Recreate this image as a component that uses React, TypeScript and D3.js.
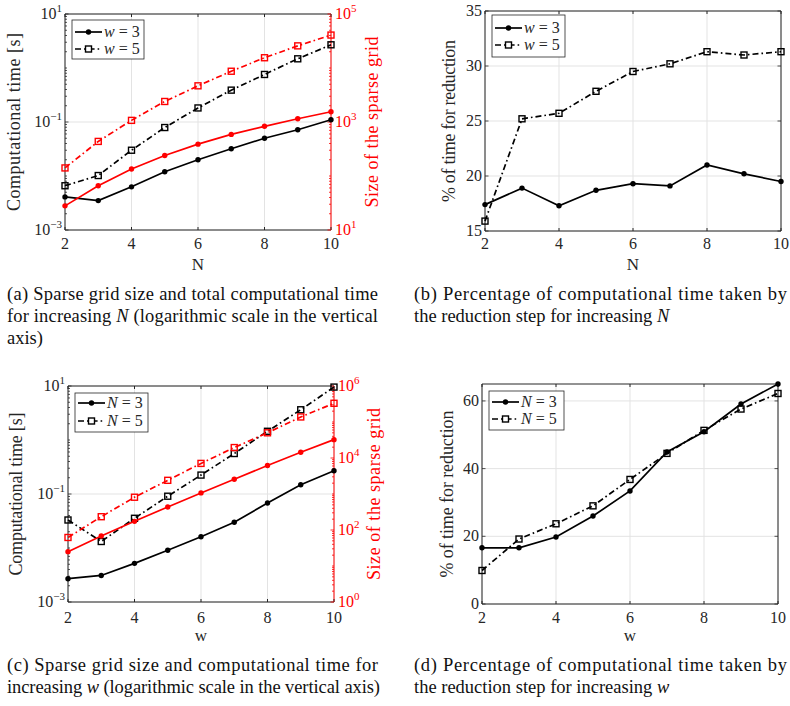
import React from 'react';
import * as d3 from 'd3';

const xValues = [2, 3, 4, 5, 6, 7, 8, 9, 10];
const xTickValues = [2, 4, 6, 8, 10];

// (a) increasing N
const timeW3 = [0.0041, 0.0035, 0.0063, 0.012, 0.020, 0.032, 0.050, 0.072, 0.110];
const timeW5 = [0.0066, 0.0102, 0.030, 0.079, 0.182, 0.389, 0.759, 1.48, 2.69];
const sizeW3 = [28, 66, 135, 240, 389, 589, 832, 1148, 1549];
const sizeW5 = [141, 437, 1072, 2399, 4677, 8710, 15488, 25704, 40738];
// (b)
const pctW3 = [17.4, 18.9, 17.3, 18.7, 19.3, 19.1, 21.0, 20.2, 19.5];
const pctW5 = [15.9, 25.2, 25.7, 27.7, 29.5, 30.2, 31.3, 31.0, 31.3];
// (c) increasing w
const timeN3 = [0.0027, 0.0031, 0.0052, 0.0091, 0.0162, 0.030, 0.068, 0.148, 0.269];
const timeN5 = [0.033, 0.0132, 0.0355, 0.091, 0.224, 0.562, 1.45, 3.63, 9.55];
const sizeN3 = [25, 68, 174, 437, 1072, 2570, 6166, 14454, 32359];
const sizeN5 = [62, 234, 813, 2399, 7079, 19498, 50119, 138038, 331131];
// (d)
const pctN3 = [16.6, 16.6, 19.8, 26.0, 33.4, 44.9, 50.9, 59.1, 65.0];
const pctN5 = [9.9, 19.2, 23.7, 29.0, 36.8, 44.5, 51.3, 57.6, 62.2];

const timeLogTicks = [1e-3, 1e-1, 1e1];
const sizeLogTicksN = [1e1, 1e3, 1e5];
const sizeLogTicksW = [1e0, 1e2, 1e4, 1e6];
const pctTicksN = [15, 20, 25, 30, 35];
const pctTicksW = [0, 20, 40, 60];

const FONT = "'Liberation Serif', 'Times New Roman', serif";
const AX = '#262626';
const GRID = '#e3e3e3';
const RED = '#ff0000';
const DASHDOT = '6 3 1.6 3';

function allLogTicks(min: number, max: number) {
  const out: number[] = [];
  for (let e = Math.floor(Math.log10(min)); e <= Math.ceil(Math.log10(max)); e++) {
    for (let k = 1; k <= 9; k++) {
      const v = k * Math.pow(10, e);
      if (v >= min * 0.999 && v <= max * 1.001) out.push(v);
    }
  }
  return out;
}

function expOf(v: number) {
  const e = Math.round(Math.log10(v));
  return e < 0 ? '\u2212' + Math.abs(e) : String(e);
}

type Series = { values: number[]; axis: 'L' | 'R'; color: string; dashed: boolean };
type AxisCfg = { log: boolean; domain: [number, number]; ticks: number[]; label: string; labelX: number; labelLen: number; color: string };
type Cfg = {
  box: { l: number; r: number; t: number; b: number };
  left: AxisCfg;
  right?: AxisCfg;
  series: Series[];
  xLabel: string;
  xLabelY: number;
  tickY: number;
  legend: { x: number; y: number; w: number; h: number; rows: number[]; names: string[] };
};

function Panel({ cfg }: { cfg: Cfg }) {
  const { l, r, t, b } = cfg.box;
  const x = d3.scaleLinear().domain([2, 10]).range([l, r]);
  const mk = (a: AxisCfg) =>
    a.log
      ? (d3.scaleLog().domain(a.domain).range([b, t]) as any)
      : (d3.scaleLinear().domain(a.domain).range([b, t]) as any);
  const yL = mk(cfg.left);
  const yR = cfg.right ? mk(cfg.right) : null;
  const midY = (t + b) / 2;

  const elems: any[] = [];
  xTickValues.forEach((v) => {
    elems.push(<line key={'gx' + v} x1={x(v)} x2={x(v)} y1={t} y2={b} stroke={GRID} strokeWidth={1} />);
  });
  cfg.left.ticks.forEach((v) => {
    elems.push(<line key={'gy' + v} x1={l} x2={r} y1={yL(v)} y2={yL(v)} stroke={GRID} strokeWidth={1} />);
  });

  elems.push(<line key="axB" x1={l} x2={r} y1={b} y2={b} stroke={AX} strokeWidth={1} />);
  elems.push(<line key="axT" x1={l} x2={r} y1={t} y2={t} stroke={AX} strokeWidth={1} />);
  elems.push(<line key="axL" x1={l} x2={l} y1={t} y2={b} stroke={AX} strokeWidth={1} />);
  elems.push(
    <line key="axR" x1={r} x2={r} y1={t} y2={b} stroke={cfg.right ? cfg.right.color : AX} strokeWidth={1} />
  );

  xTickValues.forEach((v) => {
    elems.push(<line key={'xtb' + v} x1={x(v)} x2={x(v)} y1={b} y2={b - 3} stroke={AX} />);
    elems.push(<line key={'xtt' + v} x1={x(v)} x2={x(v)} y1={t} y2={t + 3} stroke={AX} />);
    elems.push(
      <text key={'xl' + v} x={x(v)} y={cfg.tickY} textAnchor="middle" fontSize={16} fill={AX} fontFamily={FONT}>
        {v}
      </text>
    );
  });

  const leftAll = cfg.left.log ? allLogTicks(cfg.left.domain[0], cfg.left.domain[1]) : cfg.left.ticks;
  leftAll.forEach((v, i) => {
    const major = cfg.left.ticks.some((m) => m === v || Math.abs(m - v) / Math.abs(m || 1) < 1e-6);
    const len = major ? 3.5 : 2;
    elems.push(<line key={'lt' + i} x1={l} x2={l + len} y1={yL(v)} y2={yL(v)} stroke={AX} strokeWidth={0.8} />);
    if (!cfg.right) {
      elems.push(<line key={'lrt' + i} x1={r} x2={r - len} y1={yL(v)} y2={yL(v)} stroke={AX} strokeWidth={0.8} />);
    }
  });
  cfg.left.ticks.forEach((v) => {
    elems.push(
      <text key={'ll' + v} x={l - 3} y={yL(v) + 5} textAnchor="end" fontSize={16} fill={AX} fontFamily={FONT}>
        {cfg.left.log ? (
          <>
            10<tspan dy={-7} fontSize={11}>{expOf(v)}</tspan>
          </>
        ) : (
          v
        )}
      </text>
    );
  });
  if (cfg.right && yR) {
    const rc = cfg.right;
    allLogTicks(rc.domain[0], rc.domain[1]).forEach((v, i) => {
      const major = rc.ticks.some((m) => Math.abs(m - v) / m < 1e-6);
      const len = major ? 3.5 : 2;
      elems.push(<line key={'rt' + i} x1={r} x2={r - len} y1={yR(v)} y2={yR(v)} stroke={rc.color} strokeWidth={0.8} />);
    });
    rc.ticks.forEach((v) => {
      elems.push(
        <text key={'rl' + v} x={r + 4} y={yR(v) + 5} textAnchor="start" fontSize={16} fill={rc.color} fontFamily={FONT}>
          10<tspan dy={-7} fontSize={11}>{expOf(v)}</tspan>
        </text>
      );
    });
    elems.push(
      <text
        key="rlab"
        transform={`translate(${rc.labelX},${midY}) rotate(-90)`}
        textAnchor="middle"
        dominantBaseline="central"
        fontSize={18}
        fill={rc.color}
        fontFamily={FONT}
        textLength={rc.labelLen}
        lengthAdjust="spacing"
      >
        {rc.label}
      </text>
    );
  }
  elems.push(
    <text
      key="llab"
      transform={`translate(${cfg.left.labelX},${midY}) rotate(-90)`}
      textAnchor="middle"
      dominantBaseline="central"
      fontSize={18}
      fill={cfg.left.color}
      fontFamily={FONT}
      textLength={cfg.left.labelLen}
      lengthAdjust="spacing"
    >
      {cfg.left.label}
    </text>
  );
  elems.push(
    <text key="xlab" x={(l + r) / 2} y={cfg.xLabelY} textAnchor="middle" fontSize={17} fill={AX} fontFamily={FONT}>
      {cfg.xLabel}
    </text>
  );

  cfg.series.forEach((s, si) => {
    const ys = s.axis === 'L' ? yL : yR;
    const gen = d3
      .line<number>()
      .x((_, i) => x(xValues[i]))
      .y((d) => ys(d));
    elems.push(
      <path
        key={'s' + si}
        d={gen(s.values) || ''}
        fill="none"
        stroke={s.color}
        strokeWidth={1.7}
        strokeDasharray={s.dashed ? DASHDOT : undefined}
      />
    );
    s.values.forEach((v, i) => {
      const cx = x(xValues[i]);
      const cy = ys(v);
      if (s.dashed) {
        elems.push(
          <rect key={'m' + si + '_' + i} x={cx - 3} y={cy - 3} width={6} height={6} fill="none" stroke={s.color} strokeWidth={1.4} />
        );
      } else {
        elems.push(<circle key={'m' + si + '_' + i} cx={cx} cy={cy} r={2.7} fill={s.color} />);
      }
    });
  });

  const lg = cfg.legend;
  elems.push(<rect key="lgbox" x={lg.x} y={lg.y} width={lg.w} height={lg.h} fill="#fff" stroke={AX} strokeWidth={0.8} />);
  lg.rows.forEach((ry, i) => {
    const dashed = i === 1;
    const x0 = lg.x + 3;
    const x1 = lg.x + 30;
    elems.push(
      <line key={'lgl' + i} x1={x0} x2={x1} y1={ry} y2={ry} stroke="#000" strokeWidth={1.7} strokeDasharray={dashed ? DASHDOT : undefined} />
    );
    const mx = (x0 + x1) / 2;
    if (dashed) {
      elems.push(<rect key={'lgm' + i} x={mx - 3} y={ry - 3} width={6} height={6} fill="#fff" stroke="#000" strokeWidth={1.4} />);
    } else {
      elems.push(<circle key={'lgm' + i} cx={mx} cy={ry} r={2.7} fill="#000" />);
    }
    elems.push(
      <text key={'lgt' + i} x={x1 + 2} y={ry + 5} fontSize={16} fill={AX} fontFamily={FONT}>
        <tspan fontStyle="italic">{lg.names[i]}</tspan>
        {' = ' + (i === 0 ? '3' : '5')}
      </text>
    );
  });

  return <g>{elems}</g>;
}

type Seg = { t: string; i?: boolean };
type CapLine = { segs: Seg[]; len?: number; y: number };

function Caption({ x, lines }: { x: number; lines: CapLine[] }) {
  return (
    <g>
      {lines.map((ln, k) => (
        <text
          key={k}
          x={x}
          y={ln.y}
          fontSize={18.5}
          fill="#111"
          fontFamily={FONT}
          textLength={ln.len}
          lengthAdjust={ln.len ? 'spacing' : undefined}
        >
          {ln.segs.map((s, j) => (
            <tspan key={j} fontStyle={s.i ? 'italic' : undefined}>
              {s.t}
            </tspan>
          ))}
        </text>
      ))}
    </g>
  );
}

const cfgA: Cfg = {
  box: { l: 65, r: 331, t: 14, b: 230 },
  left: { log: true, domain: [1e-3, 1e1], ticks: timeLogTicks, label: 'Computational time [s]', labelX: 14, labelLen: 178, color: AX },
  right: { log: true, domain: [1e1, 1e5], ticks: sizeLogTicksN, label: 'Size of the sparse grid', labelX: 372, labelLen: 171, color: RED },
  series: [
    { values: timeW3, axis: 'L', color: '#000', dashed: false },
    { values: timeW5, axis: 'L', color: '#000', dashed: true },
    { values: sizeW3, axis: 'R', color: RED, dashed: false },
    { values: sizeW5, axis: 'R', color: RED, dashed: true },
  ],
  xLabel: 'N',
  xLabelY: 270,
  tickY: 249,
  legend: { x: 72, y: 20, w: 72, h: 39, rows: [32, 49], names: ['w', 'w'] },
};

const cfgB: Cfg = {
  box: { l: 485, r: 781, t: 11, b: 231 },
  left: { log: false, domain: [15, 35], ticks: pctTicksN, label: '% of time for reduction', labelX: 449, labelLen: 162, color: AX },
  series: [
    { values: pctW3, axis: 'L', color: '#000', dashed: false },
    { values: pctW5, axis: 'L', color: '#000', dashed: true },
  ],
  xLabel: 'N',
  xLabelY: 270,
  tickY: 249,
  legend: { x: 492, y: 15, w: 73, h: 42, rows: [28, 45], names: ['w', 'w'] },
};

const cfgC: Cfg = {
  box: { l: 68, r: 334, t: 386, b: 602 },
  left: { log: true, domain: [1e-3, 1e1], ticks: timeLogTicks, label: 'Computational time [s]', labelX: 16, labelLen: 163, color: AX },
  right: { log: true, domain: [1e0, 1e6], ticks: sizeLogTicksW, label: 'Size of the sparse grid', labelX: 374, labelLen: 172, color: RED },
  series: [
    { values: timeN3, axis: 'L', color: '#000', dashed: false },
    { values: timeN5, axis: 'L', color: '#000', dashed: true },
    { values: sizeN3, axis: 'R', color: RED, dashed: false },
    { values: sizeN5, axis: 'R', color: RED, dashed: true },
  ],
  xLabel: 'w',
  xLabelY: 641,
  tickY: 623,
  legend: { x: 75, y: 393, w: 73, h: 39, rows: [403, 421], names: ['N', 'N'] },
};

const cfgD: Cfg = {
  box: { l: 482, r: 778, t: 384, b: 604 },
  left: { log: false, domain: [0, 65], ticks: pctTicksW, label: '% of time for reduction', labelX: 447, labelLen: 167, color: AX },
  series: [
    { values: pctN3, axis: 'L', color: '#000', dashed: false },
    { values: pctN5, axis: 'L', color: '#000', dashed: true },
  ],
  xLabel: 'w',
  xLabelY: 641,
  tickY: 623,
  legend: { x: 489, y: 391, w: 75, h: 39, rows: [402, 419], names: ['N', 'N'] },
};

export default function App() {
  return (
    <svg
      width={790}
      height={706}
      viewBox="0 0 790 706"
      style={{ position: 'absolute', left: 0, top: 0, background: '#fff' }}
    >
      <rect x={0} y={0} width={790} height={706} fill="#fff" />
      <Panel cfg={cfgA} />
      <Panel cfg={cfgB} />
      <Panel cfg={cfgC} />
      <Panel cfg={cfgD} />
      <Caption
        x={7}
        lines={[
          { segs: [{ t: '(a)  Sparse grid size and total computational time' }], len: 371, y: 300 },
          { segs: [{ t: 'for increasing ' }, { t: 'N', i: true }, { t: ' (logarithmic scale in the vertical' }], len: 371, y: 322 },
          { segs: [{ t: 'axis)' }], y: 344 },
        ]}
      />
      <Caption
        x={414}
        lines={[
          { segs: [{ t: '(b)  Percentage of computational time taken by' }], len: 373, y: 300 },
          { segs: [{ t: 'the reduction step for increasing ' }, { t: 'N', i: true }], y: 322 },
        ]}
      />
      <Caption
        x={7}
        lines={[
          { segs: [{ t: '(c)  Sparse grid size and computational time for' }], len: 371, y: 671 },
          { segs: [{ t: 'increasing ' }, { t: 'w', i: true }, { t: ' (logarithmic scale in the vertical axis)' }], len: 373, y: 693 },
        ]}
      />
      <Caption
        x={414}
        lines={[
          { segs: [{ t: '(d)  Percentage of computational time taken by' }], len: 373, y: 671 },
          { segs: [{ t: 'the reduction step for increasing ' }, { t: 'w', i: true }], y: 693 },
        ]}
      />
    </svg>
  );
}
